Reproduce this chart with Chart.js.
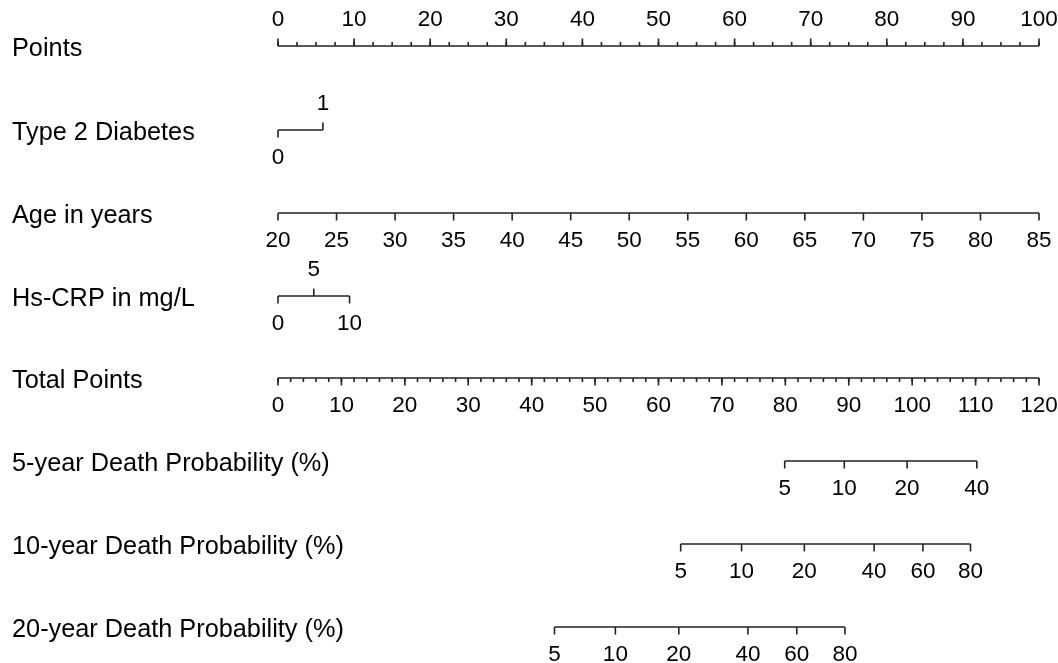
<!DOCTYPE html>
<html>
<head>
<meta charset="utf-8">
<script src="https://cdn.jsdelivr.net/npm/chart.js@4"></script>
<style>
  html, body { margin: 0; padding: 0; background: #fff; }
  canvas { display: block; }
</style>
</head>
<body>
<canvas id="nomo" width="1058" height="663"></canvas>
<script>
// 各行标题
const rowTitles = [
    'Points',
    'Type 2 Diabetes',
    'Age in years',
    'Hs-CRP in mg/L',
    'Total Points',
    '5-year Death Probability (%)',
    '10-year Death Probability (%)',
    '20-year Death Probability (%)'
];

// Points 轴
const pointsTicks = [0, 10, 20, 30, 40, 50, 60, 70, 80, 90, 100];
// 糖尿病：水平 -> 分值
const diabetesLevels = ['0', '1'];
const diabetesPoints = [0, 5.9];
// 年龄刻度
const ageTicks = [20, 25, 30, 35, 40, 45, 50, 55, 60, 65, 70, 75, 80, 85];
// Hs-CRP：取值 -> 分值
const crpLevels = ['0', '5', '10'];
const crpPoints = [0, 4.7, 9.4];
// 总分轴
const totalTicks = [0, 10, 20, 30, 40, 50, 60, 70, 80, 90, 100, 110, 120];
// 死亡概率 -> 对应总分
const prob5Labels = ['5', '10', '20', '40'];
const prob5Total = [79.9, 89.3, 99.2, 110.2];
const prob10Labels = ['5', '10', '20', '40', '60', '80'];
const prob10Total = [63.5, 73.1, 83.0, 94.0, 101.7, 109.2];
const prob20Labels = ['5', '10', '20', '40', '60', '80'];
const prob20Total = [43.6, 53.2, 63.2, 74.1, 81.8, 89.4];

// 行的纵向位置（像素）
const rowY = [46, 130, 213, 296, 378, 461, 544, 627];
const lineColor = '#222';
const fontFamily = '"Liberation Sans", Arial, sans-serif';

// 每一行的轴定义：刻度值、标签、标签方向
const rows = [
    {scale: 'x', values: pointsTicks, labels: pointsTicks.map(String), side: pointsTicks.map(() => 'up'), minor: 2.5},
    {scale: 'x', values: diabetesPoints, labels: diabetesLevels, side: ['down', 'up']},
    {scale: 'xAge', values: ageTicks, labels: ageTicks.map(String), side: ageTicks.map(() => 'down')},
    {scale: 'x', values: crpPoints, labels: crpLevels, side: ['down', 'up', 'down']},
    {scale: 'xTot', values: totalTicks, labels: totalTicks.map(String), side: totalTicks.map(() => 'down'), minor: 2},
    {scale: 'xTot', values: prob5Total, labels: prob5Labels, side: prob5Labels.map(() => 'down')},
    {scale: 'xTot', values: prob10Total, labels: prob10Labels, side: prob10Labels.map(() => 'down')},
    {scale: 'xTot', values: prob20Total, labels: prob20Labels, side: prob20Labels.map(() => 'down')}
];

// 主轴线作为数据集绘制
const datasets = rows.map((r, i) => ({
    data: [
        {x: r.values[0], y: rowY[i]},
        {x: r.values[r.values.length - 1], y: rowY[i]}
    ],
    xAxisID: r.scale,
    borderColor: lineColor,
    borderWidth: 1.6,
    pointRadius: 0,
    showLine: true,
    fill: false
}));

// 刻度、刻度标签和行标题
const nomogramPlugin = {
    id: 'nomogram',
    afterDatasetsDraw(chart) {
        const ctx = chart.ctx;
        ctx.save();
        ctx.strokeStyle = lineColor;
        ctx.lineWidth = 1.6;
        ctx.fillStyle = '#000';
        ctx.textBaseline = 'middle';

        rows.forEach((r, i) => {
            const scale = chart.scales[r.scale];
            const y = rowY[i];
            // 次刻度
            if (r.minor) {
                const lo = r.values[0], hi = r.values[r.values.length - 1];
                for (let v = lo; v <= hi + 1e-6; v += r.minor) {
                    const px = scale.getPixelForValue(v);
                    const dir = r.side[0] === 'up' ? -1 : 1;
                    ctx.beginPath();
                    ctx.moveTo(px, y);
                    ctx.lineTo(px, y + dir * 4);
                    ctx.stroke();
                }
            }
            // 主刻度与标签
            ctx.font = '22.5px ' + fontFamily;
            ctx.textAlign = 'center';
            r.values.forEach((v, j) => {
                const px = scale.getPixelForValue(v);
                const dir = r.side[j] === 'up' ? -1 : 1;
                ctx.beginPath();
                ctx.moveTo(px, y);
                ctx.lineTo(px, y + dir * 7.5);
                ctx.stroke();
                ctx.fillText(r.labels[j], px, y + dir * 27 + 1);
            });
            // 行标题
            ctx.font = '25.3px ' + fontFamily;
            ctx.textAlign = 'left';
            ctx.fillText(rowTitles[i], 12, y + 3);
        });
        ctx.restore();
    }
};

new Chart(document.getElementById('nomo'), {
    type: 'scatter',
    data: {datasets: datasets},
    options: {
        responsive: false,
        animation: false,
        layout: {padding: {left: 278, right: 19, top: 0, bottom: 0}},
        plugins: {legend: {display: false}, tooltip: {enabled: false}},
        scales: {
            x: {type: 'linear', min: 0, max: 100, display: false},
            xTot: {type: 'linear', axis: 'x', min: 0, max: 120, display: false},
            xAge: {type: 'linear', axis: 'x', min: 20, max: 85, display: false},
            y: {type: 'linear', min: 0, max: 663, reverse: true, display: false}
        }
    },
    plugins: [nomogramPlugin]
});
</script>
</body>
</html>
